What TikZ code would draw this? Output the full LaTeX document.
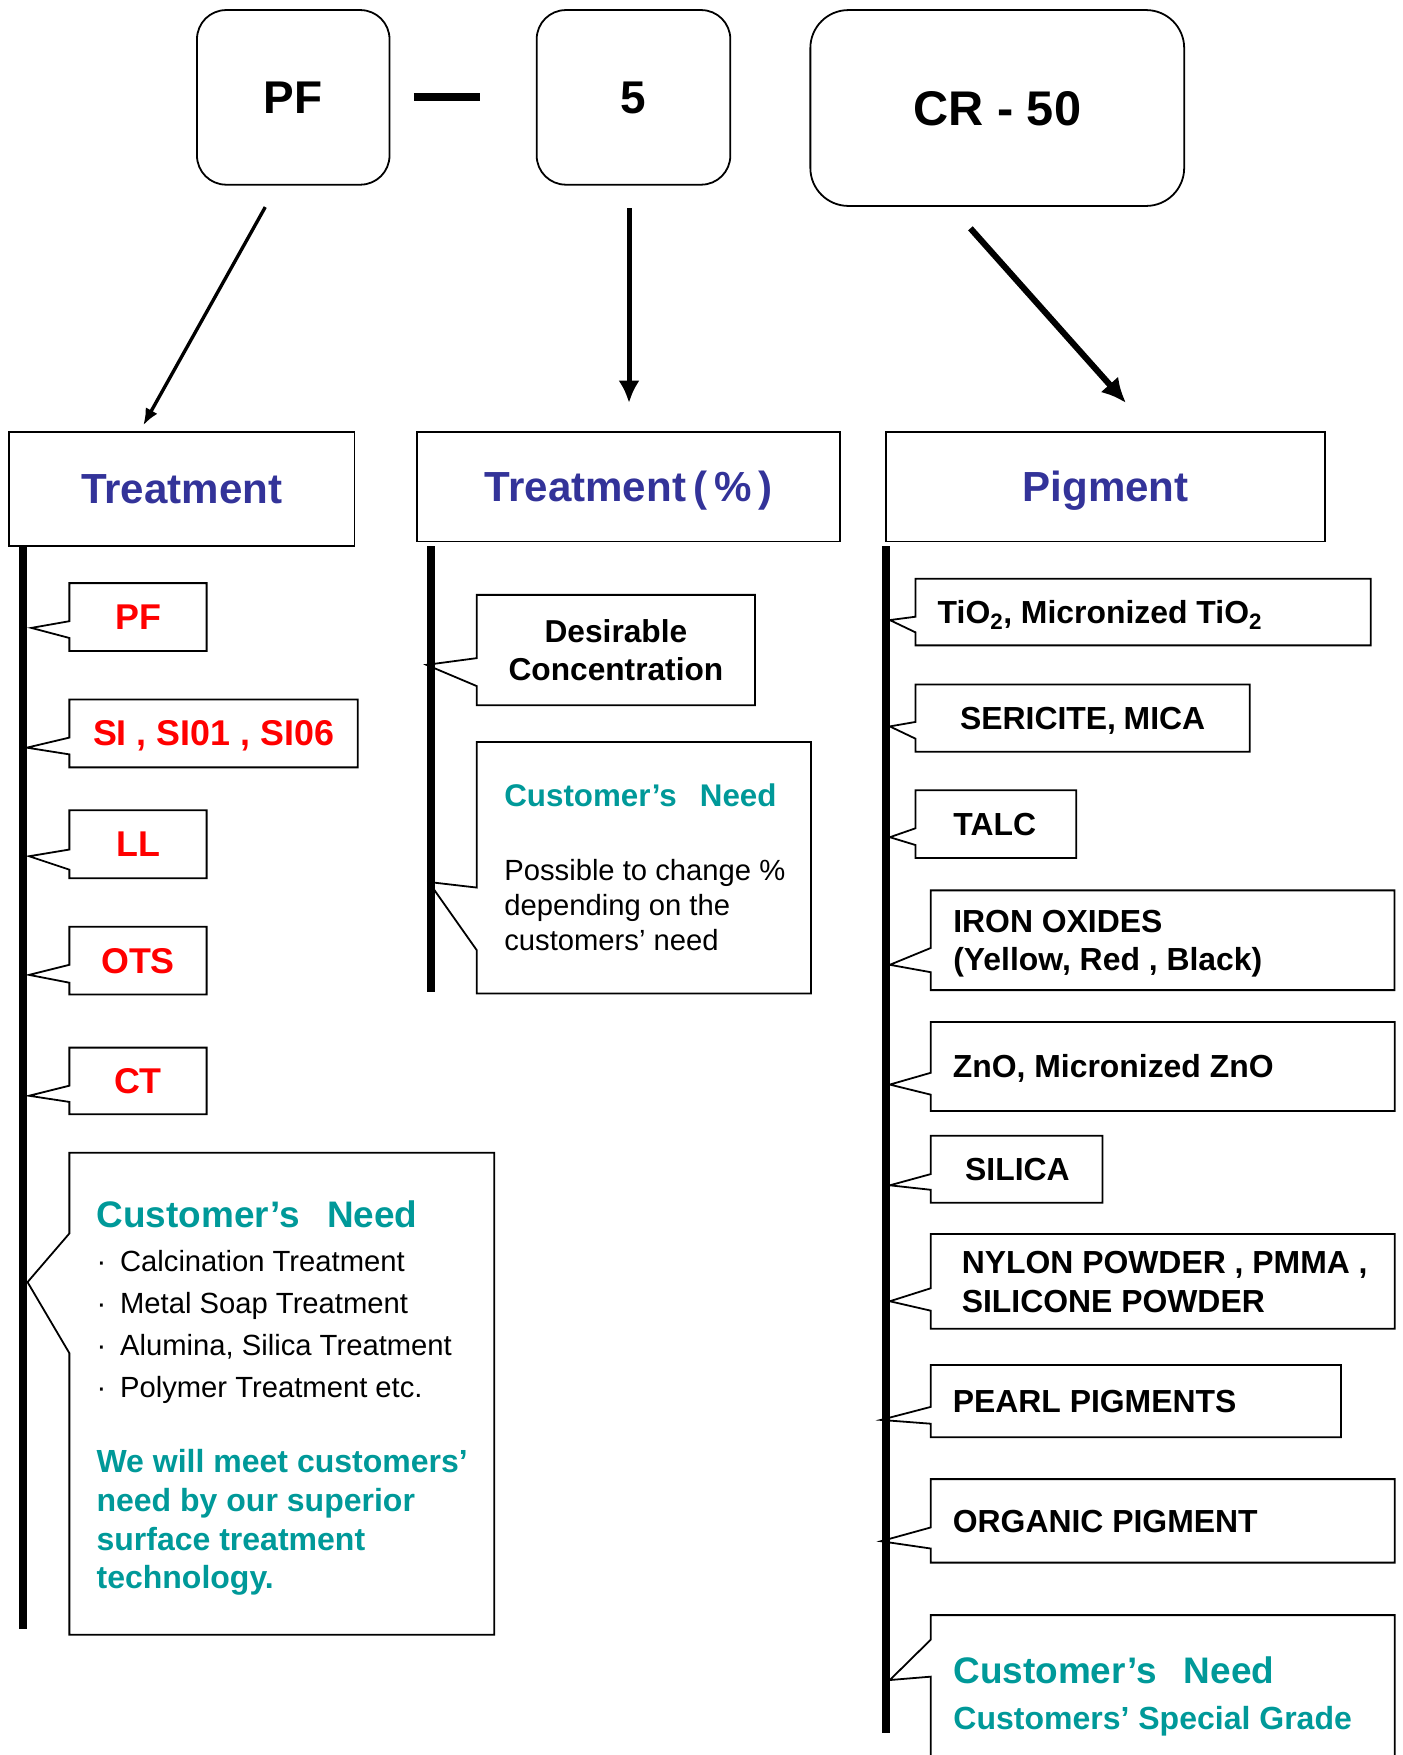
\documentclass[tikz,border=0pt]{standalone}
\usepackage{fontspec}
\setmainfont{Liberation Sans}
\usetikzlibrary{arrows.meta,positioning}
\definecolor{indigo}{RGB}{51,51,153}
\definecolor{needteal}{RGB}{0,153,153}
\newcommand\pointer[4]{\draw (#1.north west) -- (#1.west |- 0,#2) -- (#4) -- (#1.west |- 0,#3) -- (#1.south west) -- (#1.south east) -- (#1.north east) -- cycle;}
\newcommand\dotitem{\makebox[21pt][l]{\textperiodcentered}}

\begin{document}
\begin{tikzpicture}[x=1pt, y=-1pt, line width=1.6pt,
  grade/.style={anchor=north west, inner sep=0pt, text=red, text depth=0pt, minimum height=59pt, font=\bfseries\fontsize{32}{38}\selectfont},
  item/.style={anchor=north west, inner ysep=0pt, align=left, text height=20.4pt, text depth=0pt, font=\bfseries\fontsize{28.5}{34.4}\selectfont, execute at begin node={\spaceskip=0pt\xspaceskip=0pt\relax}},
  item2/.style={item, text depth=34.4pt},
  needbox/.style={anchor=north west, inner sep=0pt},
  needtext/.style={anchor=base west, inner sep=0pt, align=left, execute at begin node={\spaceskip=0pt\xspaceskip=0pt\relax}},
  bar/.style={line width=7pt}]
\useasboundingbox (0,0) rectangle (1253,1568);
\begin{scope}[every node/.style={draw, rounded corners=26pt, inner sep=0pt, text depth=0pt, minimum height=156pt, font=\bfseries\fontsize{41}{48}\selectfont}]
\node[minimum width=172pt] (pf) at (262,87) {PF}; %%
\node[minimum width=173pt] (five) at (566,87) {5}; %%
\node[rounded corners=34pt, minimum width=334pt, minimum height=175pt, font=\bfseries\fontsize{43.5}{50}\selectfont] (cr) at (891,96.5) {CR - 50}; %%
\end{scope}
\draw[line width=7pt, shorten <=21pt, shorten >=50pt] (pf) -- (five); %%
\coordinate (a1s) at (237,185); \coordinate (a1e) at (128,380); %%
\coordinate (a2s) at (562,186); \coordinate (a2e) at (562,360); %%
\coordinate (a3s) at (867,204); \coordinate (a3e) at (1006,360); %%
\draw[line width=3pt, -{Latex[length=15pt,width=12pt]}] (a1s) -- (a1e); %%
\draw[line width=4.5pt, -{Latex[length=20pt,width=19pt]}] (a2s) -- (a2e); %%
\draw[line width=5.5pt, -{Latex[length=22pt,width=21pt]}] (a3s) -- (a3e); %%
\begin{scope}[every node/.style={draw, anchor=north west, inner sep=0pt, text=indigo, text depth=0pt, font=\bfseries\fontsize{37.6}{45}\selectfont}]
\node[minimum width=309pt, minimum height=102pt] (treat) at (7,385) {Treatment}; %%
\node[minimum width=378pt, minimum height=98pt] (pct) at (372,385) {Treatment\,(\,\%\,)}; %%
\node[minimum width=392pt, minimum height=98pt] (pig) at (791,385) {Pigment}; %%
\end{scope}
% bars
\coordinate (lt) at (20.5,488); \coordinate (lb) at (20.5,1455); %%
\coordinate (mt) at (385,488); \coordinate (mb) at (385,886); %%
\coordinate (rt) at (791.5,488); \coordinate (rb) at (791.5,1548); %%
\draw[bar] (lt) -- (lb); \draw[bar] (mt) -- (mb); \draw[bar] (rt) -- (rb); %%
% treatment column
\node[grade, minimum width=121pt] (gpf) at (62,521) {PF}; %%
\node[grade, minimum width=256pt] (gsi) at (62,625) {SI , SI01 , SI06}; %%
\node[grade, minimum width=121pt] (gll) at (62,724) {LL}; %%
\node[grade, minimum width=121pt] (gots) at (62,828) {OTS}; %%
\node[grade, minimum width=121pt, minimum height=58pt] (gct) at (62,936) {CT}; %%
\pointer{gpf}{555}{570}{28,561} %%
\pointer{gsi}{659}{674}{24,668} %%
\pointer{gll}{759}{777}{26,765} %%
\pointer{gots}{862}{878}{26,871} %%
\pointer{gct}{970}{984.5}{26,979} %%
\node[needbox, minimum width=378pt, minimum height=429pt] (lneed) at (62,1030) {}; %%
\pointer{lneed}{1102}{1209}{24.6,1145.5} %%
\node[needtext, text width=350pt] (lneedtxt) at (85.5,1096.6) {%
{\bfseries\fontsize{33}{39}\selectfont\textcolor{needteal}{Customer’s\hspace{.74em}Need}\par}%
\vspace{1.9pt}%
{\fontsize{26.1}{37.5}\selectfont\dotitem Calcination Treatment\\ \dotitem Metal Soap Treatment\\ \dotitem Alumina, Silica Treatment\\ \dotitem Polymer Treatment etc.\par}%
\vspace{33pt}%
{\bfseries\fontsize{28.6}{34.5}\selectfont\textcolor{needteal}{We will meet customers’\\ need by our superior\\ surface treatment\\ technology.}\par}}; %%
% percent column
\node[item2, align=center, inner xsep=0pt, text width=247pt, minimum height=97pt, text height=20.3pt, text depth=34.3pt, font=\bfseries\fontsize{28.3}{34.3}\selectfont] (des) at (426,531.5) {Desirable\\Concentration}; %%
\pointer{des}{588}{613}{381,594} %%
\node[needbox, minimum width=297pt, minimum height=223pt] (mneed) at (426,663) {}; %%
\pointer{mneed}{793}{849}{383,788} %%
\node[needtext, text width=270pt] (mneedtxt) at (449.8,721) {%
{\bfseries\fontsize{28}{33.6}\selectfont\textcolor{needteal}{Customer’s\hspace{.74em}Need}\par}%
\vspace{34.2pt}%
{\fontsize{26.1}{31.3}\selectfont Possible to change \%\\ depending on the\\ customers’ need\par}}; %%
% pigment column
\node[item, inner xsep=19pt, text width=367pt, minimum height=58pt] (tio) at (818,517) {TiO\textsubscript{2}, Micronized TiO\textsubscript{2}}; %%
\node[item, inner xsep=39pt, text width=219pt, minimum height=58.4pt] (ser) at (818,611.6) {SERICITE,~MICA}; %%
\node[item, inner xsep=33pt, text width=76pt, minimum height=59pt] (talc) at (818,706) {TALC}; %%
\node[item2, inner xsep=19.4pt, text width=374pt, minimum height=87.5pt] (iron) at (831.5,795.5) {IRON OXIDES\\(Yellow, Red , Black)}; %%
\node[item, inner xsep=19pt, text width=375pt, minimum height=78pt] (zno) at (831.5,913) {ZnO, Micronized ZnO}; %%
\node[item, inner xsep=30pt, text width=92pt, minimum height=58.3pt] (sil) at (831.5,1014.7) {SILICA}; %%
\node[item2, inner xsep=27pt, text width=359pt, minimum height=83pt] (nyl) at (831.5,1102.5) {\mbox{NYLON POWDER , PMMA ,}\\SILICONE POWDER}; %%
\node[item, inner xsep=19pt, text width=327pt, minimum height=63pt] (pearl) at (831.5,1219.5) {PEARL PIGMENTS}; %%
\node[item, inner xsep=19pt, text width=375pt, minimum height=73pt] (org) at (831.5,1321.5) {ORGANIC PIGMENT}; %%
\pointer{tio}{551}{565}{795,554} %%
\pointer{ser}{645}{660}{795,649} %%
\pointer{talc}{740}{755}{795,748} %%
\pointer{iron}{847}{868.6}{795,862} %%
\pointer{zno}{958.5}{978}{795,969} %%
\pointer{sil}{1049}{1063}{795,1059} %%
\pointer{nyl}{1151}{1171}{795,1162.6} %%
\pointer{pearl}{1257}{1272}{787,1268.6} %%
\pointer{org}{1364.7}{1383.5}{787,1377} %%
\node[needbox, minimum width=413pt, minimum height=180pt] (rneed) at (831.5,1443) {}; %%
\pointer{rneed}{1465}{1498}{795,1501} %%
\node[needtext, text width=400pt] (rneedtxt) at (851,1504) {%
{\bfseries\fontsize{33}{39}\selectfont\textcolor{needteal}{Customer’s\hspace{.74em}Need}\par}%
{\bfseries\fontsize{28.6}{41.6}\selectfont\textcolor{needteal}{Customers’ Special Grade}\par}}; %%
\end{tikzpicture}
\end{document}
